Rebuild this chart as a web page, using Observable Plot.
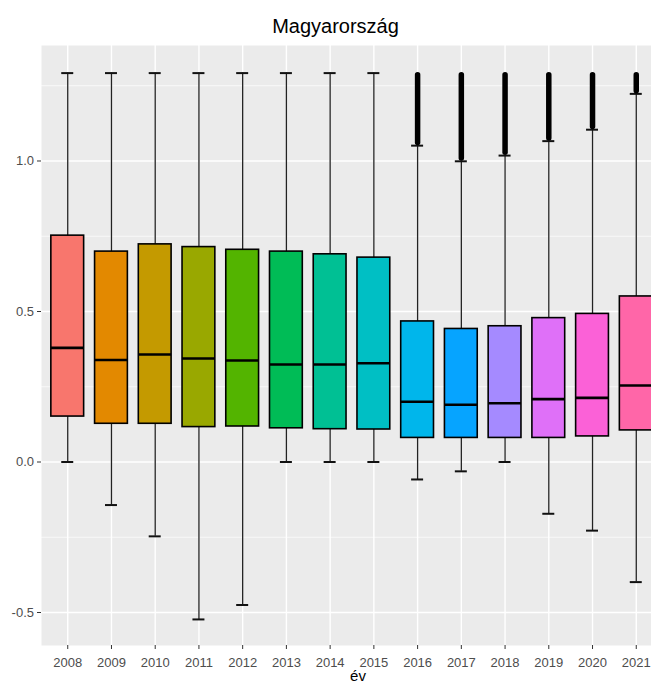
<!DOCTYPE html>
<html>
<head>
<meta charset="utf-8">
<script src="https://cdn.jsdelivr.net/npm/d3@7"></script>
<script src="https://cdn.jsdelivr.net/npm/@observablehq/plot@0.6"></script>
<style>
  html, body { margin: 0; padding: 0; background: #ffffff; overflow: hidden; }
  #chart { width: 651px; height: 687px; overflow: hidden; }
  #chart svg { max-width: none; }
</style>
</head>
<body>
<div id="chart"></div>
<script>
// ---- data ----
const title = "Magyarország";
const xLabel = "év";
const years = ["2008","2009","2010","2011","2012","2013","2014","2015","2016","2017","2018","2019","2020","2021"];
const whiskerLow  = [0.000, -0.143, -0.247, -0.523, -0.475, 0.000, 0.000, 0.000, -0.058, -0.031, 0.000, -0.172, -0.228, -0.399];
const q1          = [0.151, 0.127, 0.127, 0.116, 0.118, 0.112, 0.109, 0.108, 0.080, 0.080, 0.080, 0.080, 0.085, 0.105];
const median      = [0.379, 0.339, 0.357, 0.344, 0.337, 0.324, 0.324, 0.328, 0.200, 0.190, 0.195, 0.209, 0.213, 0.254];
const q3          = [0.752, 0.699, 0.723, 0.714, 0.705, 0.699, 0.690, 0.679, 0.467, 0.442, 0.451, 0.478, 0.492, 0.550];
const whiskerHigh = [1.292, 1.292, 1.292, 1.292, 1.292, 1.292, 1.292, 1.292, 1.051, 0.999, 1.018, 1.066, 1.104, 1.223];
// range covered by the dense outlier points (above the upper whisker)
const outlierLow  = [null, null, null, null, null, null, null, null, 1.060, 1.008, 1.027, 1.075, 1.113, 1.232];
const outlierHigh = [null, null, null, null, null, null, null, null, 1.285, 1.285, 1.285, 1.285, 1.285, 1.285];
const hueColors = ["#F8766D","#E38900","#C49A00","#99A800","#53B400","#00BC56","#00C094","#00BFC4","#00B6EB","#06A4FF","#A58AFF","#DF70F8","#FB61D7","#FF66A8"];
const yTicks = [-0.5, 0.0, 0.5, 1.0];
const yMinorTicks = [-0.25, 0.25, 0.75, 1.25];

// ---- build table ----
const boxes = years.map((year, i) => ({
  year, lo: whiskerLow[i], q1: q1[i], med: median[i], q3: q3[i], hi: whiskerHigh[i],
  oLo: outlierLow[i], oHi: outlierHigh[i]
}));
const outliers = boxes.filter(d => d.oLo != null);

const font = "'Liberation Sans', Arial, Helvetica, sans-serif";

const chart = Plot.plot({
  width: 662,
  height: 687,
  marginLeft: 41,
  marginRight: 0,
  marginTop: 45,
  marginBottom: 42,
  style: { fontFamily: font, fontSize: "13px", color: "#4D4D4D", background: "#ffffff", maxWidth: "none", overflow: "visible" },
  x: { type: "band", domain: years, paddingInner: 0.25, paddingOuter: 0.225, align: 0.5, round: false },
  y: { domain: [-0.6096, 1.3837] },
  color: { domain: years, range: hueColors },
  marks: [
    Plot.frame({ fill: "#EBEBEB", stroke: "none" }),
    Plot.ruleY(yMinorTicks, { stroke: "#ffffff", strokeWidth: 0.7 }),
    Plot.ruleY(yTicks, { stroke: "#ffffff", strokeWidth: 1.4 }),
    Plot.ruleX(years, { x: d => d, stroke: "#ffffff", strokeWidth: 1.4 }),
    // whiskers (errorbar)
    Plot.ruleX(boxes, { x: "year", y1: "lo", y2: "hi", stroke: "#222222", strokeWidth: 1.3 }),
    Plot.tickY(boxes, { x: "year", y: "lo", stroke: "#111111", strokeWidth: 2, insetLeft: 10.4, insetRight: 10.4 }),
    Plot.tickY(boxes, { x: "year", y: "hi", stroke: "#111111", strokeWidth: 2, insetLeft: 10.4, insetRight: 10.4 }),
    // outliers (dense stacks of points)
    Plot.ruleX(outliers, { x: "year", y1: "oLo", y2: "oHi", stroke: "#000000", strokeWidth: 5.5, strokeLinecap: "round" }),
    // boxes
    Plot.barY(boxes, { x: "year", y1: "q1", y2: "q3", fill: "year", stroke: "#000000", strokeWidth: 1.6 }),
    Plot.tickY(boxes, { x: "year", y: "med", stroke: "#000000", strokeWidth: 2.6 }),
    // axes
    Plot.axisY(yTicks, { tickSize: 4, tickPadding: 3.5, tickFormat: d => d.toFixed(1), stroke: "#333333", fill: "#4D4D4D", fontSize: 13, label: null }),
    Plot.axisX(years, { tickSize: 4, tickPadding: 8, stroke: "#333333", fill: "#4D4D4D", fontSize: 13, label: null }),
    // titles
    Plot.text([title], { text: d => d, frameAnchor: "top", dx: -16.5, dy: -18.5, fontSize: 20, fill: "#000000", lineAnchor: "middle" }),
    Plot.text([xLabel], { text: d => d, frameAnchor: "bottom", dx: 6, dy: 31, fontSize: 15, fill: "#000000", lineAnchor: "middle" })
  ]
});
document.getElementById("chart").appendChild(chart);
</script>
</body>
</html>
